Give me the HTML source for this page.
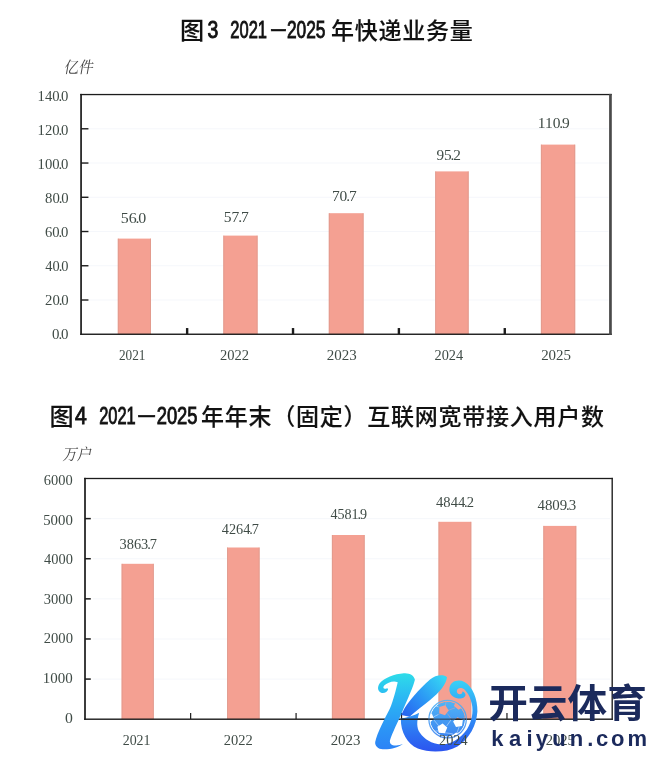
<!DOCTYPE html>
<html lang="zh-CN"><head><meta charset="utf-8"><title>图3 图4</title>
<style>html,body{margin:0;padding:0;background:#fff}svg{display:block}</style></head><body>
<svg width="660" height="772" viewBox="0 0 660 772">
<rect width="660" height="772" fill="#fff"/>
<text font-family="'Liberation Sans','Noto Sans CJK SC',sans-serif" fill="#111" stroke="#111"><tspan x="192.2" y="38.70" text-anchor="middle" font-size="24.2" font-weight="500" stroke-width="0.12">图</tspan><tspan x="207.6" y="37.70" textLength="10.80" lengthAdjust="spacingAndGlyphs" font-size="23.3" stroke-width="0.9">3</tspan> <tspan x="230.3" y="37.70" textLength="36.70" lengthAdjust="spacingAndGlyphs" font-size="23.3" stroke-width="0.9">2021</tspan><tspan x="271.20" y="35.70" textLength="14.40" lengthAdjust="spacingAndGlyphs" font-size="23.3" stroke-width="0.6">–</tspan><tspan x="287" y="37.70" textLength="38.50" lengthAdjust="spacingAndGlyphs" font-size="23.3" stroke-width="0.9">2025</tspan><tspan y="39.3" x="342.50 366.25 390.00 413.75 437.50 461.25" text-anchor="middle" font-size="23" font-weight="500" stroke-width="0.12">年快递业务量</tspan></text>
<rect x="89.06" y="299.51" width="519.39" height="1" fill="#f5f7fb"/>
<rect x="89.06" y="265.26" width="519.39" height="1" fill="#f5f7fb"/>
<rect x="89.06" y="231.02" width="519.39" height="1" fill="#f5f7fb"/>
<rect x="89.06" y="196.78" width="519.39" height="1" fill="#f5f7fb"/>
<rect x="89.06" y="162.54" width="519.39" height="1" fill="#f5f7fb"/>
<rect x="89.06" y="128.29" width="519.39" height="1" fill="#f5f7fb"/>
<rect x="117.8" y="238.6" width="33.20" height="95.65" fill="#f4a092"/>
<rect x="117.8" y="238.6" width="0.9" height="95.65" fill="#d8978a" fill-opacity="0.7"/>
<rect x="150.10" y="238.6" width="0.9" height="95.65" fill="#d8978a" fill-opacity="0.7"/>
<rect x="223.3" y="235.6" width="34.30" height="98.65" fill="#f4a092"/>
<rect x="223.3" y="235.6" width="0.9" height="98.65" fill="#d8978a" fill-opacity="0.7"/>
<rect x="256.70" y="235.6" width="0.9" height="98.65" fill="#d8978a" fill-opacity="0.7"/>
<rect x="328.8" y="213.2" width="34.80" height="121.05" fill="#f4a092"/>
<rect x="328.8" y="213.2" width="0.9" height="121.05" fill="#d8978a" fill-opacity="0.7"/>
<rect x="362.70" y="213.2" width="0.9" height="121.05" fill="#d8978a" fill-opacity="0.7"/>
<rect x="435.2" y="171.4" width="33.50" height="162.85" fill="#f4a092"/>
<rect x="435.2" y="171.4" width="0.9" height="162.85" fill="#d8978a" fill-opacity="0.7"/>
<rect x="467.80" y="171.4" width="0.9" height="162.85" fill="#d8978a" fill-opacity="0.7"/>
<rect x="540.9" y="144.6" width="34.30" height="189.65" fill="#f4a092"/>
<rect x="540.9" y="144.6" width="0.9" height="189.65" fill="#d8978a" fill-opacity="0.7"/>
<rect x="574.30" y="144.6" width="0.9" height="189.65" fill="#d8978a" fill-opacity="0.7"/>
<rect x="80.21" y="93.90" width="1.7" height="241.00" fill="#1c1c1c"/>
<rect x="80.21" y="93.90" width="531.59" height="1.3" fill="#1c1c1c"/>
<rect x="80.21" y="333.55" width="531.59" height="1.4" fill="#1c1c1c"/>
<rect x="609.10" y="93.90" width="2.7" height="241.05" fill="#4a4a4a"/>
<rect x="81.06" y="299.31" width="7.4" height="1.4" fill="#1c1c1c"/>
<rect x="81.06" y="265.06" width="7.4" height="1.4" fill="#1c1c1c"/>
<rect x="81.06" y="230.82" width="7.4" height="1.4" fill="#1c1c1c"/>
<rect x="81.06" y="196.58" width="7.4" height="1.4" fill="#1c1c1c"/>
<rect x="81.06" y="162.34" width="7.4" height="1.4" fill="#1c1c1c"/>
<rect x="81.06" y="128.09" width="7.4" height="1.4" fill="#1c1c1c"/>
<rect x="185.94" y="328.05" width="2.4" height="6" fill="#1c1c1c"/>
<rect x="291.82" y="328.05" width="2.4" height="6" fill="#1c1c1c"/>
<rect x="397.69" y="328.05" width="2.4" height="6" fill="#1c1c1c"/>
<rect x="503.57" y="328.05" width="2.4" height="6" fill="#1c1c1c"/>
<text transform="translate(63.6,73.2) skewX(-10) scale(0.9,1)" font-family="'Liberation Serif','Noto Serif CJK SC',serif" font-size="16.2" font-weight="400" fill="#484848">亿件</text>
<text font-family="'Liberation Sans','Noto Sans CJK SC',sans-serif" fill="#111" stroke="#111"><tspan x="61.5" y="424.70" text-anchor="middle" font-size="24.2" font-weight="500" stroke-width="0.12">图</tspan><tspan x="75" y="423.70" textLength="11.80" lengthAdjust="spacingAndGlyphs" font-size="23.3" stroke-width="0.9">4</tspan> <tspan x="99.2" y="423.70" textLength="36.50" lengthAdjust="spacingAndGlyphs" font-size="23.3" stroke-width="0.9">2021</tspan><tspan x="138.50" y="421.70" textLength="16.30" lengthAdjust="spacingAndGlyphs" font-size="23.3" stroke-width="0.6">–</tspan><tspan x="156.7" y="423.70" textLength="40.80" lengthAdjust="spacingAndGlyphs" font-size="23.3" stroke-width="0.9">2025</tspan><tspan y="425.3" x="212.60 236.35 260.10 283.85 307.60 331.35 355.10 378.85 402.60 426.35 450.10 473.85 497.60 521.35 545.10 568.85 592.60" text-anchor="middle" font-size="23" font-weight="500" stroke-width="0.12">年年末（固定）互联网宽带接入用户数</tspan></text>
<rect x="93.00" y="678.58" width="517.20" height="1" fill="#f5f7fb"/>
<rect x="93.00" y="638.47" width="517.20" height="1" fill="#f5f7fb"/>
<rect x="93.00" y="598.35" width="517.20" height="1" fill="#f5f7fb"/>
<rect x="93.00" y="558.23" width="517.20" height="1" fill="#f5f7fb"/>
<rect x="93.00" y="518.12" width="517.20" height="1" fill="#f5f7fb"/>
<rect x="121.6" y="563.8" width="32.20" height="155.40" fill="#f4a092"/>
<rect x="121.6" y="563.8" width="0.9" height="155.40" fill="#d8978a" fill-opacity="0.7"/>
<rect x="152.90" y="563.8" width="0.9" height="155.40" fill="#d8978a" fill-opacity="0.7"/>
<rect x="227.1" y="547.5" width="32.50" height="171.70" fill="#f4a092"/>
<rect x="227.1" y="547.5" width="0.9" height="171.70" fill="#d8978a" fill-opacity="0.7"/>
<rect x="258.70" y="547.5" width="0.9" height="171.70" fill="#d8978a" fill-opacity="0.7"/>
<rect x="331.9" y="535.0" width="32.80" height="184.20" fill="#f4a092"/>
<rect x="331.9" y="535.0" width="0.9" height="184.20" fill="#d8978a" fill-opacity="0.7"/>
<rect x="363.80" y="535.0" width="0.9" height="184.20" fill="#d8978a" fill-opacity="0.7"/>
<rect x="438.5" y="521.8" width="32.80" height="197.40" fill="#f4a092"/>
<rect x="438.5" y="521.8" width="0.9" height="197.40" fill="#d8978a" fill-opacity="0.7"/>
<rect x="470.40" y="521.8" width="0.9" height="197.40" fill="#d8978a" fill-opacity="0.7"/>
<rect x="543.3" y="525.9" width="33.00" height="193.30" fill="#f4a092"/>
<rect x="543.3" y="525.9" width="0.9" height="193.30" fill="#d8978a" fill-opacity="0.7"/>
<rect x="575.40" y="525.9" width="0.9" height="193.30" fill="#d8978a" fill-opacity="0.7"/>
<rect x="84.15" y="477.85" width="1.7" height="242.00" fill="#1c1c1c"/>
<rect x="84.15" y="477.85" width="528.75" height="1.3" fill="#1c1c1c"/>
<rect x="84.15" y="718.50" width="528.75" height="1.4" fill="#1c1c1c"/>
<rect x="611.50" y="477.85" width="1.4" height="242.05" fill="#222"/>
<rect x="85.00" y="678.33" width="5.8" height="1.5" fill="#1c1c1c"/>
<rect x="85.00" y="638.22" width="5.8" height="1.5" fill="#1c1c1c"/>
<rect x="85.00" y="598.10" width="5.8" height="1.5" fill="#1c1c1c"/>
<rect x="85.00" y="557.98" width="5.8" height="1.5" fill="#1c1c1c"/>
<rect x="85.00" y="517.87" width="5.8" height="1.5" fill="#1c1c1c"/>
<rect x="190.04" y="713.00" width="1.2" height="6" fill="#1c1c1c"/>
<rect x="295.48" y="713.00" width="1.2" height="6" fill="#1c1c1c"/>
<rect x="400.92" y="713.00" width="1.2" height="6" fill="#1c1c1c"/>
<rect x="506.36" y="713.00" width="1.2" height="6" fill="#1c1c1c"/>
<text transform="translate(62.2,459.8) skewX(-10) scale(0.9,1)" font-family="'Liberation Serif','Noto Serif CJK SC',serif" font-size="16.2" font-weight="400" fill="#484848">万户</text>
<text transform="translate(52.08,338.70) scale(0.9610,1)" font-family="'Liberation Serif','Noto Serif CJK SC',serif" font-size="15.5" fill="#3f4b46">0<tspan dx="-1.15">.</tspan><tspan dx="-1.15">0</tspan></text>
<text transform="translate(45.00,304.75) scale(0.9536,1)" font-family="'Liberation Serif','Noto Serif CJK SC',serif" font-size="15.5" fill="#3f4b46">20<tspan dx="-1.15">.</tspan><tspan dx="-1.15">0</tspan></text>
<text transform="translate(45.34,270.80) scale(0.9305,1)" font-family="'Liberation Serif','Noto Serif CJK SC',serif" font-size="15.5" fill="#3f4b46">40<tspan dx="-1.15">.</tspan><tspan dx="-1.15">0</tspan></text>
<text transform="translate(44.98,236.85) scale(0.9448,1)" font-family="'Liberation Serif','Noto Serif CJK SC',serif" font-size="15.5" fill="#3f4b46">60<tspan dx="-1.15">.</tspan><tspan dx="-1.15">0</tspan></text>
<text transform="translate(45.03,202.90) scale(0.9495,1)" font-family="'Liberation Serif','Noto Serif CJK SC',serif" font-size="15.5" fill="#3f4b46">80<tspan dx="-1.15">.</tspan><tspan dx="-1.15">0</tspan></text>
<text transform="translate(37.55,168.95) scale(0.9479,1)" font-family="'Liberation Serif','Noto Serif CJK SC',serif" font-size="15.5" fill="#3f4b46">100<tspan dx="-1.15">.</tspan><tspan dx="-1.15">0</tspan></text>
<text transform="translate(37.55,135.00) scale(0.9479,1)" font-family="'Liberation Serif','Noto Serif CJK SC',serif" font-size="15.5" fill="#3f4b46">120<tspan dx="-1.15">.</tspan><tspan dx="-1.15">0</tspan></text>
<text transform="translate(37.55,101.05) scale(0.9479,1)" font-family="'Liberation Serif','Noto Serif CJK SC',serif" font-size="15.5" fill="#3f4b46">140<tspan dx="-1.15">.</tspan><tspan dx="-1.15">0</tspan></text>
<text transform="translate(64.91,722.50) scale(1.0135,1)" font-family="'Liberation Serif','Noto Serif CJK SC',serif" font-size="15.5" fill="#3f4b46">0</text>
<text transform="translate(42.74,682.90) scale(0.9660,1)" font-family="'Liberation Serif','Noto Serif CJK SC',serif" font-size="15.5" fill="#3f4b46">1000</text>
<text transform="translate(43.75,643.30) scale(0.9414,1)" font-family="'Liberation Serif','Noto Serif CJK SC',serif" font-size="15.5" fill="#3f4b46">2000</text>
<text transform="translate(43.67,603.70) scale(0.9381,1)" font-family="'Liberation Serif','Noto Serif CJK SC',serif" font-size="15.5" fill="#3f4b46">3000</text>
<text transform="translate(44.09,564.10) scale(0.9294,1)" font-family="'Liberation Serif','Noto Serif CJK SC',serif" font-size="15.5" fill="#3f4b46">4000</text>
<text transform="translate(43.21,524.50) scale(0.9564,1)" font-family="'Liberation Serif','Noto Serif CJK SC',serif" font-size="15.5" fill="#3f4b46">5000</text>
<text transform="translate(43.73,484.90) scale(0.9321,1)" font-family="'Liberation Serif','Noto Serif CJK SC',serif" font-size="15.5" fill="#3f4b46">6000</text>
<text transform="translate(118.91,360.20) scale(0.8559,1)" font-family="'Liberation Serif','Noto Serif CJK SC',serif" font-size="15.5" fill="#3f4b46">2021</text>
<text transform="translate(219.95,360.20) scale(0.9386,1)" font-family="'Liberation Serif','Noto Serif CJK SC',serif" font-size="15.5" fill="#3f4b46">2022</text>
<text transform="translate(326.63,360.20) scale(0.9681,1)" font-family="'Liberation Serif','Noto Serif CJK SC',serif" font-size="15.5" fill="#3f4b46">2023</text>
<text transform="translate(434.56,360.20) scale(0.9242,1)" font-family="'Liberation Serif','Noto Serif CJK SC',serif" font-size="15.5" fill="#3f4b46">2024</text>
<text transform="translate(541.14,360.20) scale(0.9650,1)" font-family="'Liberation Serif','Noto Serif CJK SC',serif" font-size="15.5" fill="#3f4b46">2025</text>
<text transform="translate(120.70,223.20) scale(1.0275,1)" font-family="'Liberation Serif','Noto Serif CJK SC',serif" font-size="15.5" fill="#3f4b46">56<tspan dx="-1.15">.</tspan><tspan dx="-1.15">0</tspan></text>
<text transform="translate(223.82,221.50) scale(1.0066,1)" font-family="'Liberation Serif','Noto Serif CJK SC',serif" font-size="15.5" fill="#3f4b46">57<tspan dx="-1.15">.</tspan><tspan dx="-1.15">7</tspan></text>
<text transform="translate(331.88,200.50) scale(0.9971,1)" font-family="'Liberation Serif','Noto Serif CJK SC',serif" font-size="15.5" fill="#3f4b46">70<tspan dx="-1.15">.</tspan><tspan dx="-1.15">7</tspan></text>
<text transform="translate(436.42,160.20) scale(0.9859,1)" font-family="'Liberation Serif','Noto Serif CJK SC',serif" font-size="15.5" fill="#3f4b46">95<tspan dx="-1.15">.</tspan><tspan dx="-1.15">2</tspan></text>
<text transform="translate(537.82,127.70) scale(0.9980,1)" font-family="'Liberation Serif','Noto Serif CJK SC',serif" font-size="15.5" fill="#3f4b46">110<tspan dx="-1.15">.</tspan><tspan dx="-1.15">9</tspan></text>
<text transform="translate(122.68,744.60) scale(0.8987,1)" font-family="'Liberation Serif','Noto Serif CJK SC',serif" font-size="15.5" fill="#3f4b46">2021</text>
<text transform="translate(223.76,744.60) scale(0.9341,1)" font-family="'Liberation Serif','Noto Serif CJK SC',serif" font-size="15.5" fill="#3f4b46">2022</text>
<text transform="translate(330.64,744.60) scale(0.9644,1)" font-family="'Liberation Serif','Noto Serif CJK SC',serif" font-size="15.5" fill="#3f4b46">2023</text>
<text transform="translate(545.65,744.60) scale(0.9444,1)" font-family="'Liberation Serif','Noto Serif CJK SC',serif" font-size="15.5" fill="#3f4b46">2025</text>
<text transform="translate(119.48,548.50) scale(0.9298,1)" font-family="'Liberation Serif','Noto Serif CJK SC',serif" font-size="15.5" fill="#3f4b46">3863<tspan dx="-1.15">.</tspan><tspan dx="-1.15">7</tspan></text>
<text transform="translate(221.79,533.80) scale(0.9210,1)" font-family="'Liberation Serif','Noto Serif CJK SC',serif" font-size="15.5" fill="#3f4b46">4264<tspan dx="-1.15">.</tspan><tspan dx="-1.15">7</tspan></text>
<text transform="translate(330.39,519.20) scale(0.9125,1)" font-family="'Liberation Serif','Noto Serif CJK SC',serif" font-size="15.5" fill="#3f4b46">4581<tspan dx="-1.15">.</tspan><tspan dx="-1.15">9</tspan></text>
<text transform="translate(436.08,507.40) scale(0.9400,1)" font-family="'Liberation Serif','Noto Serif CJK SC',serif" font-size="15.5" fill="#3f4b46">4844<tspan dx="-1.15">.</tspan><tspan dx="-1.15">2</tspan></text>
<text transform="translate(537.47,510.10) scale(0.9613,1)" font-family="'Liberation Serif','Noto Serif CJK SC',serif" font-size="15.5" fill="#3f4b46">4809<tspan dx="-1.15">.</tspan><tspan dx="-1.15">3</tspan></text>
<defs>
<linearGradient id="kg1" gradientUnits="userSpaceOnUse" x1="0" y1="674" x2="0" y2="750">
<stop offset="0" stop-color="#2edbe9"/><stop offset="0.3" stop-color="#2bb9f3"/><stop offset="0.65" stop-color="#2b9af6"/><stop offset="1" stop-color="#2c82f6"/>
</linearGradient>
<linearGradient id="kg2" gradientUnits="userSpaceOnUse" x1="402" y1="716" x2="444" y2="678">
<stop offset="0" stop-color="#2760ee"/><stop offset="0.45" stop-color="#2b93f5"/><stop offset="1" stop-color="#35d6f4"/>
</linearGradient>
<linearGradient id="kg3" gradientUnits="userSpaceOnUse" x1="0" y1="679" x2="0" y2="753">
<stop offset="0" stop-color="#38d4f6"/><stop offset="0.42" stop-color="#319cf6"/><stop offset="0.75" stop-color="#2d70f2"/><stop offset="1" stop-color="#2c52ef"/>
</linearGradient>
</defs>
<path fill="url(#kg1)" d="M 403.8,673.2 C 409.6,672.7 414.3,675.6 414.9,679.7 C 413.3,686.6 408.4,697.1 401.5,713.4 C 398.0,721.6 392.1,733.2 390.0,740.2 C 389.2,743.7 392.1,745.8 396.2,745.5 C 398.5,745.2 400.9,744.7 402.9,744.0 C 399.1,747.2 391.0,749.6 382.8,749.3 C 378.2,749.1 374.7,746.1 375.2,742.0 C 377.0,733.2 385.1,718.1 389.8,708.8 C 393.3,700.6 396.2,689.0 397.7,682.2 C 393.3,680.2 387.5,682.6 384.2,685.5 C 382.6,687.2 383.4,689.2 385.7,688.7 C 386.9,688.5 387.5,687.8 388.1,689.2 C 387.5,691.9 384.0,693.9 381.1,692.7 C 377.6,691.3 377.0,687.2 379.9,683.1 C 384.0,677.9 394.5,673.8 403.8,673.2 Z"/>
<path fill="url(#kg3)" d="M 400.8,718.7 C 408.3,717.1 415.1,715.0 419.2,712.7 C 416.5,721.2 416.5,728.0 419.9,732.8 C 424.6,739.6 431.5,743.7 441.0,744.4 C 450.5,744.6 460.1,738.9 466.9,729.4 C 472.1,721.2 473.5,711.6 471.8,703.7 C 470.7,698.7 468.8,694.6 466.6,692.0 C 465.0,689.8 463.4,688.5 461.5,688.0 C 459.0,687.6 457.1,688.7 456.8,690.9 C 456.7,692.8 458.0,694.2 459.8,694.2 C 461.5,694.2 462.5,693.1 462.4,691.5 C 463.8,691.5 465.3,692.8 465.5,694.7 C 465.5,696.9 462.8,698.8 458.2,698.5 C 452.6,698.0 448.5,693.2 449.5,687.8 C 450.5,681.6 457.6,678.6 464.5,681.9 C 472.6,686.1 477.8,699.4 477.4,711.6 C 476.5,725.3 469.6,738.9 457.4,746.4 C 446.5,752.5 430.1,753.2 417.8,748.5 C 406.9,743.7 400.8,732.1 400.8,718.7 Z"/>
<path fill="url(#kg2)" d="M 401.2,715.0 C 402.8,711.6 403.9,709.6 405.0,707.5 C 409.6,700.7 417.8,690.5 430.0,679.6 C 435.5,674.8 443.7,674.1 447.0,677.3 C 446.2,684.4 439.6,692.5 430.1,700.0 C 423.3,705.5 415.1,711.4 409.6,716.8 Z"/>
<g transform="translate(447.6,719.2) scale(0.1940)">
<defs><linearGradient id="bg" gradientUnits="userSpaceOnUse" x1="0" y1="-100" x2="0" y2="100"><stop offset="0" stop-color="#52b6f6"/><stop offset="1" stop-color="#3a82f0"/></linearGradient>
<mask id="bm" maskUnits="userSpaceOnUse" x="-100" y="-100" width="200" height="200"><circle r="90" fill="#fff"/><path d="M-11.8,-71.4 L6.0,-45.1 L-13.6,-20.0 L-43.4,-30.9 L-42.3,-62.6Z M50.3,-10.6 L78.8,3.3 L74.4,34.8 L43.2,40.3 L28.3,12.2Z M-25.6,22.1 L-1.7,42.9 L-14.1,72.1 L-45.7,69.4 L-52.9,38.5Z M-81.5,-29.7 L-69.5,-2.8 L-91.4,16.9 L-116.8,2.2 L-110.7,-26.6Z M74.7,-93.9 L82.1,-64.3 L56.2,-48.1 L32.8,-67.7 L44.2,-96.0Z M44.0,68.0 L68.7,86.0 L59.3,115.0 L28.7,115.0 L19.3,86.0Z M-78.2,50.3 L-60.2,68.9 L-72.4,91.8 L-97.8,87.3 L-101.4,61.7Z" fill="#000"/><path d="M-2,-30 L20,0 L40,-2 M20,0 L-5,35 M-40,-28 L-72,-12 M-12,-68 L-8,-90 M0,-45 L38,-58 M72,-2 L90,-8 M60,38 L48,72 M-45,35 L-72,2 M-15,70 L25,75 L20,95 M-48,60 L-66,62 M-42,-62 L-60,-68" fill="none" stroke="#000" stroke-width="2.2"/></mask></defs>
<circle r="96.5" fill="none" stroke="url(#bg)" stroke-width="6.5" stroke-opacity="0.9"/>
<circle r="90" fill="url(#bg)" mask="url(#bm)"/>
</g>
<text x="488.2" y="716.6" textLength="158.6" lengthAdjust="spacingAndGlyphs" font-family="'Liberation Sans','Noto Sans CJK SC',sans-serif" font-weight="700" font-size="38.4" fill="#1b2a5c">开云体育</text>
<text y="745.7" x="491.2 508.9 526.4 535.8 552.3 569.7 587.2 595.9 610.9 627.6" font-family="'Liberation Sans','Noto Sans CJK SC',sans-serif" font-weight="700" font-size="22" fill="#1b2a5c">kaiyun.com</text>

<rect x="401" y="718.50" width="27.5" height="1.4" fill="#1c1c1c"/>
<rect x="428.5" y="718.50" width="38" height="1.4" fill="#1c1c1c" fill-opacity="0.55"/>
<text transform="translate(439.07,744.60) scale(0.9194,1)" font-family="'Liberation Serif','Noto Serif CJK SC',serif" font-size="15.5" fill="#3f4b46">2024</text>
</svg></body></html>
